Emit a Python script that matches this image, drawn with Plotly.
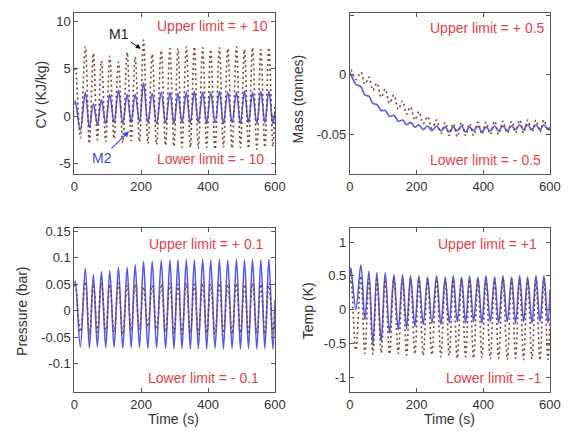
import plotly.graph_objects as go

W, H = 570, 434

# Time grid of turning points (s)
t_grid = [0, 3, 18, 33, 45, 57, 69, 81, 94, 106, 119, 132, 145, 158, 170, 182, 195, 207,
          220, 233, 246, 260, 273, 286, 298, 310, 322, 335, 347, 359, 371, 384, 396, 408,
          421, 434, 446, 459, 472, 485, 497, 509, 521, 533, 546, 558, 570, 582, 594, 600]

# CV (KJ/kg)
cv_m1 = [4.8, 5.2, -2.3, 7.3, -2.9, 6.6, -2.5, 5.8, -2.7, 6.3, -2.4, 5.7, -2.8, 6.7, -2.6, 6.2,
         -2.7, 8.0, -2.9, 6.5, -3.0, 6.9, -3.1, 7.1, -3.2, 7.1, -3.3, 7.3, -3.3, 7.3, -3.4, 7.2,
         -3.3, 7.0, -3.5, 7.2, -3.3, 7.1, -3.4, 7.3, -3.3, 7.0, -3.4, 7.2, -3.5, 7.0, -3.3, 7.2,
         -3.2, 1.0]
cv_m2 = [1.2, 1.6, -1.5, 2.5, -1.2, 1.3, -0.9, 1.7, -0.8, 2.3, -0.7, 2.7, -0.8, 2.3, -0.7, 2.3,
         -0.6, 3.5, -0.7, 2.4, -0.8, 2.5, -0.7, 2.5, -0.8, 2.4, -0.7, 2.5, -0.8, 2.6, -0.7, 2.5,
         -0.8, 2.5, -0.7, 2.6, -0.8, 2.5, -0.7, 2.5, -0.8, 2.6, -0.7, 2.5, -0.8, 2.6, -0.7, 2.6,
         -0.8, 0.5]

# Mass (tonnes)
mass_m1 = [0.0, 0.004, -0.004, 0.002, -0.008, -0.002, -0.013, -0.007, -0.019, -0.012, -0.024,
           -0.017, -0.029, -0.022, -0.033, -0.027, -0.038, -0.031, -0.041, -0.035, -0.045,
           -0.038, -0.049, -0.040, -0.051, -0.041, -0.052, -0.040, -0.051, -0.041, -0.051,
           -0.040, -0.050, -0.040, -0.050, -0.039, -0.050, -0.039, -0.049, -0.039, -0.049,
           -0.038, -0.049, -0.038, -0.048, -0.038, -0.048, -0.038, -0.047, -0.043]
mass_m2 = [0.001, 0.0, -0.008, -0.010, -0.017, -0.018, -0.024, -0.025, -0.030, -0.030, -0.035,
           -0.034, -0.039, -0.038, -0.042, -0.040, -0.044, -0.042, -0.046, -0.043, -0.047,
           -0.043, -0.047, -0.044, -0.048, -0.044, -0.047, -0.043, -0.048, -0.044, -0.047,
           -0.043, -0.048, -0.044, -0.047, -0.043, -0.047, -0.043, -0.047, -0.043, -0.046,
           -0.042, -0.046, -0.042, -0.046, -0.042, -0.046, -0.042, -0.046, -0.044]

# Pressure (bar)
pres_m1 = [0.045, 0.052, -0.040, 0.055, -0.045, 0.050, -0.040, 0.052, -0.042, 0.050, -0.040,
           0.052, -0.044, 0.048, -0.038, 0.050, -0.035, 0.045, -0.030, 0.048, -0.035, 0.050,
           -0.040, 0.052, -0.042, 0.050, -0.044, 0.052, -0.042, 0.050, -0.044, 0.052, -0.042,
           0.050, -0.044, 0.052, -0.042, 0.050, -0.044, 0.052, -0.042, 0.050, -0.044, 0.052,
           -0.042, 0.050, -0.044, 0.052, -0.042, 0.010]
pres_m2 = [0.050, 0.056, -0.068, 0.080, -0.070, 0.068, -0.068, 0.074, -0.070, 0.076, -0.069,
           0.082, -0.071, 0.082, -0.070, 0.087, -0.069, 0.093, -0.071, 0.093, -0.070, 0.095,
           -0.071, 0.096, -0.072, 0.096, -0.071, 0.097, -0.072, 0.096, -0.071, 0.097, -0.072,
           0.096, -0.071, 0.097, -0.072, 0.096, -0.071, 0.097, -0.072, 0.096, -0.071, 0.097,
           -0.072, 0.096, -0.071, 0.097, -0.072, 0.020]

# Temp (K)
temp_m1 = [0.40, 0.48, -0.60, 0.50, -0.65, 0.46, -0.66, 0.48, -0.64, 0.45, -0.66, 0.47, -0.65,
           0.45, -0.67, 0.46, -0.66, 0.45, -0.68, 0.46, -0.67, 0.45, -0.70, 0.46, -0.68, 0.45,
           -0.72, 0.46, -0.70, 0.45, -0.72, 0.46, -0.71, 0.45, -0.73, 0.46, -0.72, 0.45, -0.74,
           0.46, -0.72, 0.45, -0.74, 0.46, -0.73, 0.45, -0.75, 0.46, -0.74, -0.10]
temp_m2 = [0.50, 0.62, 0.00, 0.66, -0.15, 0.57, -0.52, 0.55, -0.48, 0.55, -0.35, 0.52, -0.30,
           0.52, -0.28, 0.50, -0.25, 0.50, -0.22, 0.48, -0.20, 0.50, -0.22, 0.48, -0.20, 0.50,
           -0.18, 0.48, -0.20, 0.50, -0.18, 0.48, -0.20, 0.50, -0.18, 0.48, -0.20, 0.50, -0.18,
           0.48, -0.20, 0.50, -0.18, 0.48, -0.20, 0.50, -0.18, 0.50, -0.20, 0.30]

x_ticks = [0, 200, 400, 600]
x_ticktext = ["0", "200", "400", "600"]
cv_ticks = [-5, 0, 5, 10]
cv_ticktext = ["-5", "0", "5", "10"]
mass_ticks = [-0.05, 0, 0.05]
mass_ticktext = ["-0.05", "0", "0.05"]
pres_ticks = [-0.1, -0.05, 0, 0.05, 0.1, 0.15]
pres_ticktext = ["-0.1", "-0.05", "0", "0.05", "0.1", "0.15"]
temp_ticks = [-1, -0.5, 0, 0.5, 1]
temp_ticktext = ["-1", "-0.5", "0", "0.5", "1"]

BLUE = "#4545e6"
DOT = "#7a4436"
RED = "#e5404a"
AX = "#555555"
TXT = "#333333"
FONT = "Liberation Sans, Arial, sans-serif"

fig = go.Figure()
panels = [
    ("x", "y", cv_m2, cv_m1),
    ("x2", "y2", mass_m2, mass_m1),
    ("x3", "y3", pres_m2, pres_m1),
    ("x4", "y4", temp_m2, temp_m1),
]
for xa, ya, m2, m1 in panels:
    fig.add_trace(go.Scatter(x=t_grid, y=m2, xaxis=xa, yaxis=ya, mode="lines",
                             line=dict(color=BLUE, width=1.6, shape="spline", smoothing=1.0),
                             opacity=0.9, showlegend=False, hoverinfo="skip"))
    fig.add_trace(go.Scatter(x=t_grid, y=m1, xaxis=xa, yaxis=ya, mode="lines",
                             line=dict(color=DOT, width=1.6, dash="2px,3px", shape="spline", smoothing=1.0),
                             showlegend=False, hoverinfo="skip"))

# the page body adds an 8px offset; positions below are given in window pixels
OFF = 8


def px_x(p):
    return (p - OFF) / W


def px_y(p):
    return 1 - (p - OFF) / H


dom_x_left = [px_x(72), px_x(278)]
dom_x_right = [px_x(355), px_x(560.5)]
dom_y_top = [px_y(171.5), px_y(9.5)]
dom_y_bot = [px_y(391.5), px_y(226)]

common_axis = dict(showline=True, linecolor=AX, linewidth=1, mirror="ticks", ticks="inside",
                   ticklen=4, tickcolor=AX, showgrid=False, zeroline=False,
                   tickfont=dict(family=FONT, size=13, color=TXT), fixedrange=True)

fig.update_layout(
    width=W, height=H, margin=dict(l=0, r=0, t=0, b=0),
    paper_bgcolor="white", plot_bgcolor="white",
    font=dict(family=FONT, size=13, color=TXT),
    xaxis=dict(domain=dom_x_left, anchor="y", range=[0, 600], tickvals=x_ticks, ticktext=x_ticktext, **common_axis),
    yaxis=dict(domain=dom_y_top, anchor="x", range=[-6.1, 10.8], tickvals=cv_ticks, ticktext=cv_ticktext, **common_axis),
    xaxis2=dict(domain=dom_x_right, anchor="y2", range=[0, 600], tickvals=x_ticks, ticktext=x_ticktext, **common_axis),
    yaxis2=dict(domain=dom_y_top, anchor="x2", range=[-0.0833, 0.0514], tickvals=mass_ticks, ticktext=mass_ticktext, **common_axis),
    xaxis3=dict(domain=dom_x_left, anchor="y3", range=[0, 600], tickvals=x_ticks, ticktext=x_ticktext, **common_axis),
    yaxis3=dict(domain=dom_y_bot, anchor="x3", range=[-0.153, 0.156], tickvals=pres_ticks, ticktext=pres_ticktext, **common_axis),
    xaxis4=dict(domain=dom_x_right, anchor="y4", range=[0, 600], tickvals=x_ticks, ticktext=x_ticktext, **common_axis),
    yaxis4=dict(domain=dom_y_bot, anchor="x4", range=[-1.22, 1.21], tickvals=temp_ticks, ticktext=temp_ticktext, **common_axis),
)

ann = []


def label(text, x, y, color=RED, xanchor="right", angle=0, size=14):
    ann.append(dict(text=text, x=px_x(x), y=px_y(y), xref="paper", yref="paper",
                    xanchor=xanchor, yanchor="middle", showarrow=False, textangle=angle,
                    font=dict(family=FONT, size=size, color=color)))


label("Upper limit = + 10", 273, 22)
label("Lower limit = - 10", 269, 156)
label("Upper limit = + 0.5", 557, 24)
label("Lower limit = - 0.5", 553, 157)
label("Upper limit = + 0.1", 269, 242)
label("Lower limit = - 0.1", 264, 377)
label("Upper limit = +1", 549, 242)
label("Lower limit = -1", 554, 377)

label("CV (KJ/kg)", 38, 91, color=TXT, xanchor="center", angle=-90)
label("Mass (tonnes)", 302, 96, color=TXT, xanchor="center", angle=-90)
label("Pressure (bar)", 18, 310, color=TXT, xanchor="center", angle=-90)
label("Temp (K)", 312, 310, color=TXT, xanchor="center", angle=-90)
label("Time (s)", 174, 419, color=TXT, xanchor="center")
label("Time (s)", 457, 419, color=TXT, xanchor="center")

ann.append(dict(text="M1", x=199, y=7.1, xref="x", yref="y", ax=134, ay=8.6, axref="x", ayref="y",
                showarrow=True, arrowhead=2, arrowsize=1, arrowwidth=1, arrowcolor="#111111",
                font=dict(family=FONT, size=14, color="#222222")))
ann.append(dict(text="M2", x=164, y=-1.6, xref="x", yref="y", ax=82, ay=-4.4, axref="x", ayref="y",
                showarrow=True, arrowhead=2, arrowsize=1, arrowwidth=1.2, arrowcolor=BLUE,
                font=dict(family=FONT, size=14, color=BLUE)))

fig.update_layout(annotations=ann)
fig.write_html("out.html")
